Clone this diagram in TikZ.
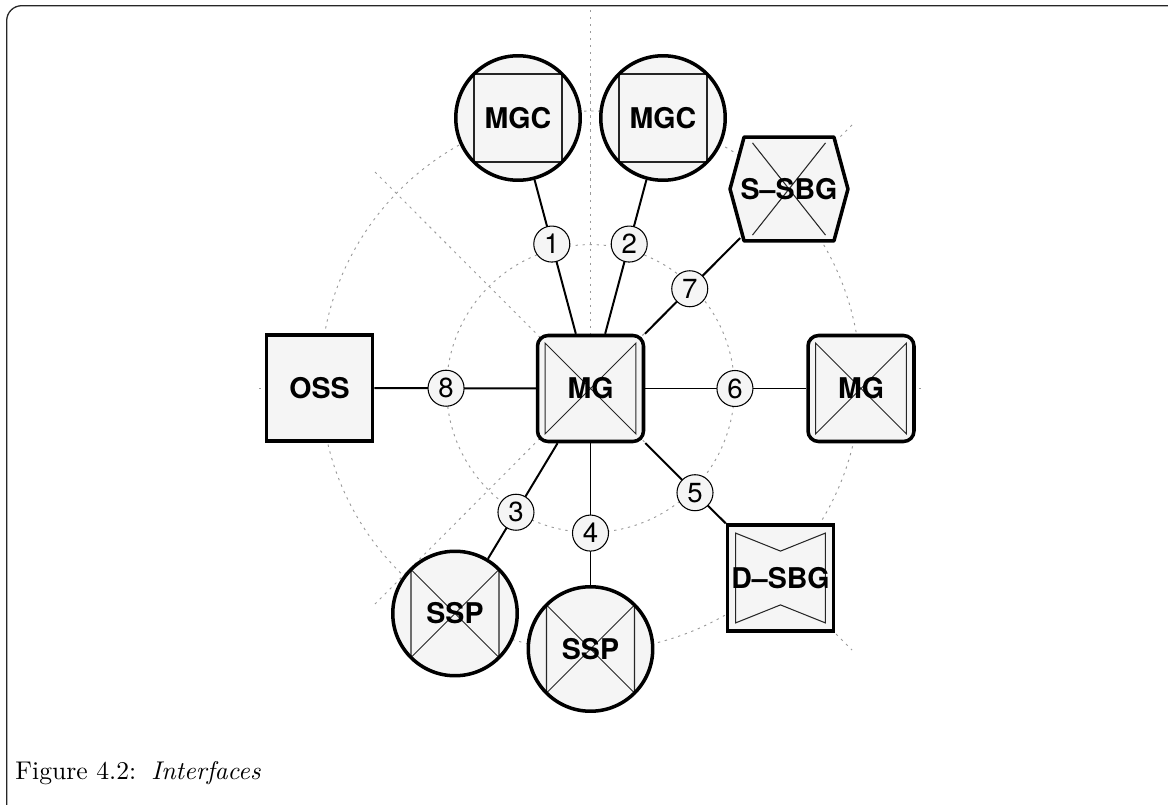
\documentclass[tikz,border=0pt]{standalone}
\usepackage{fontspec}
\newfontfamily\heros{TeX Gyre Heros}
\usetikzlibrary{calc,backgrounds}
\definecolor{nodefill}{HTML}{F5F5F5}
\definecolor{guidegray}{HTML}{9A9A9A}

\tikzset{
  unitbox/.style={draw, line width=1.5pt, fill=nodefill, inner sep=0pt,
    minimum size=45.3pt, font=\heros\bfseries\fontsize{12.2}{14}\selectfont},
  roundbox/.style={unitbox, rounded corners=4.5pt},
  disc/.style={unitbox, circle, minimum size=53.2pt},
  hexnode/.style={inner sep=0pt, minimum width=39pt, minimum height=44.5pt,
    font=\heros\bfseries\fontsize{12.2}{14}\selectfont},
  hexline/.style={draw, line width=1.5pt, fill=nodefill, line join=round},
  fine/.style={draw=black!85, line width=0.45pt, sharp corners, line join=miter},
  link/.style={line width=0.85pt},
  guide/.style={draw=guidegray, line width=0.4pt, dash pattern=on 1pt off 2pt},
  lbl/.style={circle, draw, line width=0.45pt, fill=nodefill, minimum size=15.4pt,
    inner sep=0pt, font=\heros\fontsize{11.8}{13}\selectfont},
  frameline/.style={draw=black!85, line width=0.55pt, rounded corners=6.4pt},
  % two uprights joined by a cross
  sidecross/.style={path picture={
    \draw[fine] ($(path picture bounding box.center)+(-#1,#1)$) -- ++(0,-2*#1)
      -- ++(2*#1,2*#1) -- ++(0,-2*#1) -- cycle;}},
  % square set inside the shape
  insquare/.style={path picture={
    \draw[fine] ($(path picture bounding box.center)+(-#1,-#1)$) rectangle
      ($(path picture bounding box.center)+(#1,#1)$);}},
  % bow-tie outline
  bowtie/.style={path picture={
    \draw[fine] ($(path picture bounding box.center)+(-19.2pt,19.2pt)$)
      -- ++(19.2pt,-7.7pt) -- ++(19.2pt,7.7pt) -- ++(0,-38.4pt)
      -- ++(-19.2pt,7.7pt) -- ++(-19.2pt,-7.7pt) -- cycle;}},
}

\begin{document}
\begin{tikzpicture}[x=0.4274pt, y={(0pt,-0.4274pt)}]
  % outer frame, running off the right and bottom edges
  \begin{scope}
    \clip (0,0) rectangle (1168,805);
    \draw[frameline] (6.7,5.7) rectangle (1185,820);
  \end{scope}

  % network elements
  \node[roundbox, sidecross=19.4pt] (mg) at (590.5,388.5) {MG};
  \node[disc, insquare=18.8pt] (mgc1) at (518,118) {MGC};
  \node[disc, insquare=18.8pt] (mgc2) at (663,118) {MGC};
  \node[hexnode] (ssbg) at (789,189) {S–SBG};
  \node[roundbox, sidecross=19.4pt] (mg2) at (861,388.5) {MG};
  \node[unitbox, bowtie] (dsbg) at (780.5,578) {D–SBG};
  \node[disc, sidecross=18.8pt] (ssp2) at (590.5,649) {SSP};
  \node[disc, sidecross=18.8pt] (ssp1) at (455,613.5) {SSP};
  \node[unitbox] (oss) at (319.5,388) {OSS};

  \begin{pgfonlayer}{background}
    % dotted polar guides
    \coordinate (ring) at (590.5,381);
    \draw[guide] (ring) circle[radius=115.4pt];
    \draw[guide] (mg.center) circle[radius=61.5pt];
    \coordinate (gN) at (590.5,10);
    \coordinate (gS) at (590.5,712);
    \coordinate (gW) at (259,388.5);
    \coordinate (gE) at (923,388.5);
    \coordinate (gNW) at (375,172);
    \coordinate (gSE) at (852,650);
    \coordinate (gNE) at (852,125);
    \coordinate (gSW) at (375,604);
    \draw[guide] (gN) -- (gS);
    \draw[guide] (gW) -- (gE);
    \draw[guide] (gNW) -- (gSE);
    \draw[guide] (gNE) -- (gSW);

    % interfaces
    \draw[link] (mg) -- (mgc1);
    \draw[link] (mg) -- (mgc2);
    \draw[link] (mg) -- (ssbg);
    \draw[link] (mg) -- (mg2);
    \draw[link] (mg) -- (dsbg);
    \draw[link] (mg) -- (ssp2);
    \draw[link] (mg) -- (ssp1);
    \draw[link] (mg) -- (oss);

    % hexagon of the signalling border gateway
    \path[hexline] ($(ssbg.center)+(-25.2pt,0pt)$) -- ($(ssbg.center)+(-19.2pt,22.2pt)$)
      -- ($(ssbg.center)+(19.2pt,22.2pt)$) -- ($(ssbg.center)+(25.2pt,0pt)$)
      -- ($(ssbg.center)+(19.2pt,-22.2pt)$) -- ($(ssbg.center)+(-19.2pt,-22.2pt)$) -- cycle;
    \draw[fine] ($(ssbg.center)+(-15.6pt,19.7pt)$) -- ($(ssbg.center)+(15.6pt,-19.7pt)$);
    \draw[fine] ($(ssbg.center)+(15.6pt,19.7pt)$) -- ($(ssbg.center)+(-15.6pt,-19.7pt)$);
  \end{pgfonlayer}

  % interface numbers
  \node[lbl] (k1) at ($(mg)!0.534!(mgc1)$) {1};
  \node[lbl] (k2) at ($(mg)!0.534!(mgc2)$) {2};
  \node[lbl] (k7) at ($(mg)!0.5!(ssbg)$) {7};
  \node[lbl] (k6) at ($(mg)!0.534!(mg2)$) {6};
  \node[lbl] (k5) at ($(mg)!0.55!(dsbg)$) {5};
  \node[lbl] (k4) at ($(mg)!0.555!(ssp2)$) {4};
  \node[lbl] (k3) at ($(mg)!0.55!(ssp1)$) {3};
  \node[lbl] (k8) at ($(mg)!0.533!(oss)$) {8};

  % caption
  \node[anchor=base west, inner sep=0pt, font=\fontsize{10.95}{13}\selectfont] (cap)
    at (15,779) {Figure 4.2:\hspace{6.5pt}\textit{Interfaces}};

  % page extent
  \pgfresetboundingbox
  \useasboundingbox (0,0) rectangle (1168,805);
\end{tikzpicture}
\end{document}
